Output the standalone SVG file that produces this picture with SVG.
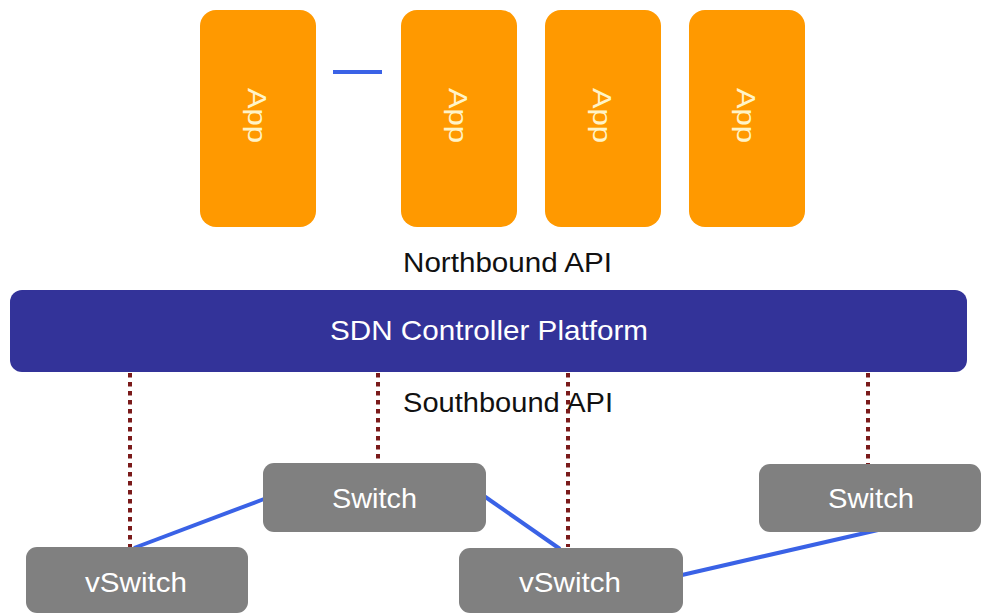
<svg xmlns="http://www.w3.org/2000/svg" width="984" height="613" viewBox="0 0 984 613">
<style>
.app{fill:#FF9900}
.appt{fill:#FFF4C8;font-family:"Liberation Sans",Arial,sans-serif;font-size:25px;text-anchor:middle}
.sw{fill:#808080}
.swt{fill:#FFFFFF;font-family:"Liberation Sans",Arial,sans-serif;font-size:28px;text-anchor:middle}
.lbl{fill:#111111;font-family:"Liberation Sans",Arial,sans-serif;font-size:27px;text-anchor:middle}
.dot{stroke:#7A1A1A;stroke-width:4;stroke-dasharray:4.5 4.5;fill:none}
.link{stroke:#3A62E6;stroke-width:4;fill:none}
</style>
<rect width="984" height="613" fill="#FFFFFF"/>
<g id="southbound"><text class="lbl" x="508" y="412" textLength="210" lengthAdjust="spacingAndGlyphs">Southbound API</text></g>
<g id="connectors">
<line class="link" x1="333" y1="72" x2="382" y2="72"/>
<line class="dot" x1="130" y1="373" x2="130" y2="547"/>
<line class="dot" x1="378" y1="373" x2="378" y2="463"/>
<line class="dot" x1="568" y1="373" x2="568" y2="547"/>
<line class="dot" x1="868" y1="373" x2="868" y2="464"/>
<line class="link" x1="134" y1="548" x2="264" y2="499"/>
<line class="link" x1="484" y1="496" x2="560" y2="549"/>
<line class="link" x1="682" y1="575" x2="878" y2="530"/>
</g>
<g id="app1"><rect class="app" x="200" y="10" width="116" height="217" rx="16"/><text class="appt" transform="translate(248,115.5) rotate(90)" textLength="55" lengthAdjust="spacingAndGlyphs">App</text></g>
<g id="app2"><rect class="app" x="401" y="10" width="116" height="217" rx="16"/><text class="appt" transform="translate(449,115.5) rotate(90)" textLength="55" lengthAdjust="spacingAndGlyphs">App</text></g>
<g id="app3"><rect class="app" x="545" y="10" width="116" height="217" rx="16"/><text class="appt" transform="translate(593,115.5) rotate(90)" textLength="55" lengthAdjust="spacingAndGlyphs">App</text></g>
<g id="app4"><rect class="app" x="689" y="10" width="116" height="217" rx="16"/><text class="appt" transform="translate(737,115.5) rotate(90)" textLength="55" lengthAdjust="spacingAndGlyphs">App</text></g>
<g id="northbound"><text class="lbl" x="507.5" y="272" textLength="209" lengthAdjust="spacingAndGlyphs">Northbound API</text></g>
<g id="controller"><rect x="10" y="290" width="957" height="82" rx="12" fill="#333399"/><text class="swt" x="489" y="340" textLength="318" lengthAdjust="spacingAndGlyphs">SDN Controller Platform</text></g>
<g id="switch1"><rect class="sw" x="263" y="463" width="223" height="69" rx="11"/><text class="swt" x="374.5" y="508" textLength="85" lengthAdjust="spacingAndGlyphs">Switch</text></g>
<g id="switch2"><rect class="sw" x="759" y="464" width="222" height="68" rx="11"/><text class="swt" x="871" y="508" textLength="86" lengthAdjust="spacingAndGlyphs">Switch</text></g>
<g id="vswitch1"><rect class="sw" x="26" y="547" width="222" height="66" rx="11"/><text class="swt" x="136" y="592" textLength="102" lengthAdjust="spacingAndGlyphs">vSwitch</text></g>
<g id="vswitch2"><rect class="sw" x="459" y="548" width="224" height="65" rx="11"/><text class="swt" x="570" y="592" textLength="102" lengthAdjust="spacingAndGlyphs">vSwitch</text></g>
</svg>
